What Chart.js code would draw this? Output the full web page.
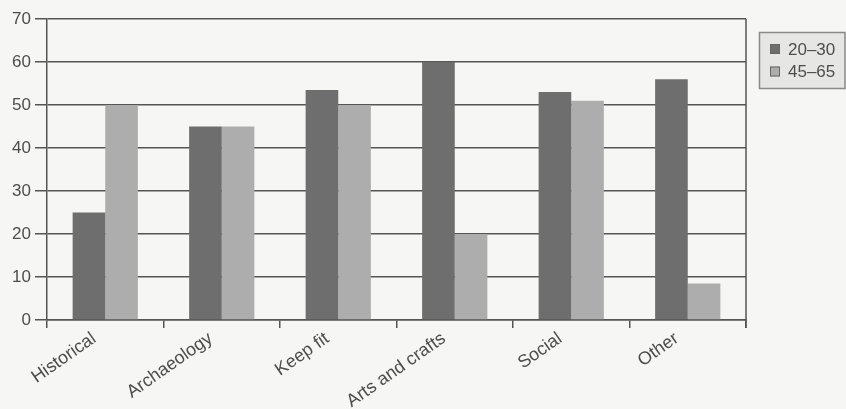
<!DOCTYPE html>
<html>
<head>
<meta charset="utf-8">
<script src="https://cdn.jsdelivr.net/npm/chart.js@4.4.0/dist/chart.umd.min.js"></script>
<style>
  html, body { margin: 0; padding: 0; background: #f6f6f4; }
  #wrap { width: 846px; height: 409px; }
</style>
</head>
<body>
<div id="wrap"><canvas id="c" width="846" height="409"></canvas></div>
<script>
const categories = ["Historical", "Archaeology", "Keep fit", "Arts and crafts", "Social", "Other"];
const seriesNames = ["20–30", "45–65"];
const young = [25, 45, 53.5, 60, 53, 56];
const older = [50, 45, 50, 20, 51, 8.5];
const yTicks = [0, 10, 20, 30, 40, 50, 60, 70];

const darkCol = "#6e6e6e";
const lightCol = "#adadad";
const lineCol = "#555555";
const textCol = "#4d4d4d";
const FONT = "'Liberation Sans', Arial, sans-serif";

const frame = {
  id: "frame",
  afterDatasetsDraw(chart) {
    const { ctx, chartArea } = chart;
    ctx.save();
    ctx.strokeStyle = lineCol;
    ctx.lineWidth = 1.5;
    ctx.beginPath();
    ctx.moveTo(chartArea.right, chartArea.top);
    ctx.lineTo(chartArea.right, chartArea.bottom + 8);
    ctx.stroke();
    ctx.restore();
  },
  afterDraw(chart) {
    const { ctx } = chart;
    const ds = chart.data.datasets;
    const bx = 759.5, by = 32.5, bw = 85.5, bh = 56;
    ctx.save();
    ctx.fillStyle = "#e6e6e4";
    ctx.strokeStyle = "#8a8a8a";
    ctx.lineWidth = 1.5;
    ctx.fillRect(bx, by, bw, bh);
    ctx.strokeRect(bx, by, bw, bh);
    ctx.font = "17px " + FONT;
    ctx.textBaseline = "middle";
    ds.forEach((d, i) => {
      const cy = 49 + i * 22.5;
      ctx.fillStyle = d.backgroundColor;
      ctx.fillRect(770, cy - 5, 10, 10);
      ctx.strokeStyle = "#666";
      ctx.lineWidth = 1;
      ctx.strokeRect(770.5, cy - 4.5, 9, 9);
      ctx.fillStyle = textCol;
      ctx.fillText(d.label, 788, cy + 1);
    });
    ctx.restore();
  }
};

new Chart(document.getElementById("c"), {
  type: "bar",
  data: {
    labels: categories,
    datasets: [
      { label: seriesNames[0], data: young, backgroundColor: darkCol },
      { label: seriesNames[1], data: older, backgroundColor: lightCol }
    ]
  },
  options: {
    responsive: false,
    animation: false,
    devicePixelRatio: 1,
    layout: { padding: { top: 19, right: 100, left: 0, bottom: 0 } },
    plugins: { legend: { display: false }, tooltip: { enabled: false } },
    datasets: { bar: { categoryPercentage: 0.56, barPercentage: 1.0 } },
    scales: {
      x: {
        offset: true,
        grid: { offset: true, drawOnChartArea: false, color: lineCol, lineWidth: 1.5, tickLength: 8 },
        border: { color: lineCol, width: 1.5 },
        ticks: {
          color: textCol,
          font: { family: FONT, size: 18 },
          minRotation: 35, maxRotation: 35, padding: 0, labelOffset: -11
        },
        afterFit(s) { s.height = 89; }
      },
      y: {
        min: 0, max: 70,
        afterBuildTicks(s) { s.ticks = yTicks.map(v => ({ value: v })); },
        grid: { color: lineCol, lineWidth: 1.5, tickLength: 12 },
        border: { color: lineCol, width: 1.5 },
        ticks: {
          color: textCol, padding: 4,
          font: { family: FONT, size: 17 }
        },
        afterFit(s) { s.width = 47; }
      }
    }
  },
  plugins: [frame]
});
</script>
</body>
</html>
